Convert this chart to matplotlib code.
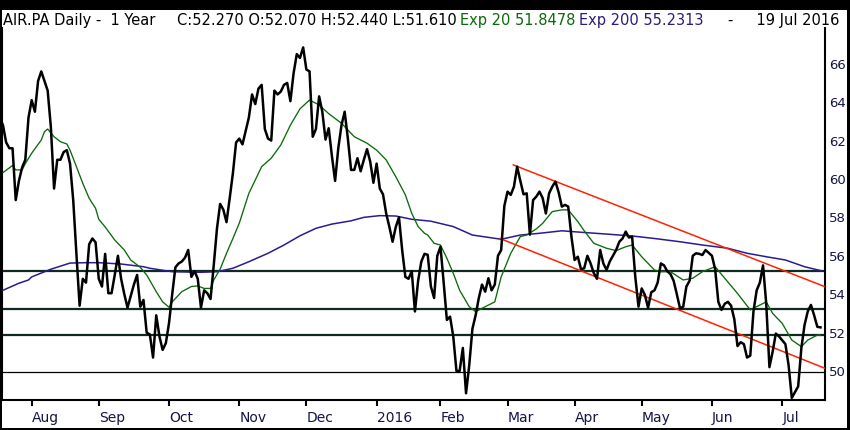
import numpy as np
import pandas as pd
import matplotlib
matplotlib.use("Agg")
import matplotlib.pyplot as plt
from matplotlib.patches import Rectangle

# ---------------- data ----------------
start_date = "2015-07-20"
end_date = "2016-07-19"
holidays = ["2015-12-25", "2016-01-01", "2016-03-25", "2016-03-28"]

closes = [
    63.2, 62.8, 61.9, 61.6, 61.6, 58.9, 59.9, 60.6, 61.0, 63.2,
    64.1, 63.5, 65.1, 65.6, 65.1, 64.6, 62.7, 59.5, 61.0, 61.0,
    61.4, 61.5, 60.8, 58.9, 56.1, 53.4, 54.8, 54.6, 56.6, 56.9,
    56.7, 54.8, 54.4, 56.1, 54.05, 54.05, 55.0, 56.0, 54.8, 54.0,
    53.3, 53.9, 54.5, 55.0, 53.35, 53.7, 52.0, 51.9, 50.7, 52.9,
    51.8, 51.1, 51.45, 52.5, 54.0, 55.4, 55.6, 55.7, 55.9, 56.3,
    54.9, 55.2, 54.8, 53.3, 54.2, 54.05, 53.75, 55.5, 57.4, 58.7,
    58.4, 57.75, 59.0, 60.3, 61.9, 62.1, 61.8, 62.5, 63.2, 64.4,
    63.9, 64.7, 64.9, 62.6, 62.1, 62.0, 64.6, 64.4, 64.55, 64.9,
    65.0, 64.05, 65.5, 66.5, 66.3, 66.85, 65.7, 65.6, 62.2, 62.6,
    64.3, 63.5, 62.05, 62.64, 61.2, 59.9, 61.6, 62.8, 63.5, 62.1,
    60.47, 60.47, 61.08, 60.4, 61.0, 61.55, 60.9, 59.8, 60.8, 59.5,
    59.2, 58.2, 57.5, 56.73, 57.5, 58.0, 56.3, 54.9, 54.8, 55.2,
    53.1, 54.7, 55.7, 56.1, 56.05, 54.4, 53.8, 56.0, 56.47, 54.6,
    52.66, 52.83, 51.8, 50.0, 50.0, 51.2, 48.84, 50.3, 52.2, 52.9,
    53.8, 54.5, 54.13, 54.83, 54.2, 54.5, 56.0, 56.3, 58.6, 59.34,
    59.17, 59.6, 60.64, 59.9, 59.2, 59.25, 57.1, 58.9, 59.08, 59.34,
    59.0, 58.2, 59.25, 59.6, 59.86, 59.3, 58.56, 58.65, 58.56, 57.0,
    55.78, 55.95, 55.3, 55.35, 56.0, 55.6, 55.1, 54.8, 56.3, 55.6,
    55.26, 55.7, 56.0, 56.3, 56.73, 56.9, 57.26, 56.95, 57.0, 54.9,
    53.35, 54.3, 53.96, 53.3, 54.1, 54.2, 54.6, 55.6, 55.5, 55.2,
    55.05, 54.7, 54.0, 53.26, 53.35, 54.4, 54.7, 56.0, 56.13, 56.1,
    56.04, 56.3, 56.15, 56.0, 55.3, 53.6, 53.18, 53.5, 53.6, 53.4,
    52.7, 51.3, 51.5, 51.4, 50.7, 50.8, 53.1, 54.2, 54.6, 55.5,
    53.5, 50.2, 51.0, 51.95, 51.8, 51.6, 51.4, 50.3, 48.6, 48.9,
    49.2, 51.2, 52.4, 53.1, 53.44, 52.9, 52.3, 52.27,
]

# EMA 20 (trading-day index, value)
ema20_idx = [1, 4, 5, 7, 8, 10, 13, 14, 15, 17, 19, 21, 22, 24, 26, 28, 30, 31, 33, 36,
             39, 41, 44, 46, 49, 51, 53, 54, 57, 60, 62, 64, 66, 67, 69, 71, 73, 75, 78, 82,
             85, 88, 91, 94, 97, 100, 103, 107, 111, 115, 118, 121, 124, 127, 129, 131, 133, 134, 136, 138,
             140, 142, 144, 147, 149, 152, 155, 157, 160, 163, 165, 168, 170, 173, 176, 178, 181, 183, 186, 190,
             193, 196, 198, 201, 205, 207, 210, 214, 217, 220, 224, 227, 231, 235, 237, 240, 242, 245, 248, 251,
             253, 256, 257]
ema20_val = [60.33, 60.7, 60.47, 60.47, 60.8, 61.34, 62.03, 62.46, 62.6, 62.2, 61.94, 61.82, 61.5, 60.64, 59.77, 58.99, 58.47, 57.9, 57.5, 56.82,
             56.3, 55.78, 55.4, 55.0, 54.13, 53.6, 53.32, 53.6, 54.13, 54.4, 54.43, 54.3, 54.3, 54.74, 55.3, 56.13, 56.9, 57.7, 59.25, 60.64,
             61.08, 61.77, 62.8, 63.65, 64.11, 63.85, 63.4, 62.9, 62.2, 61.86, 61.5, 60.99, 60.12, 59.17, 58.21, 57.52, 57.17, 57.08, 56.65, 56.56,
             55.87, 55.09, 54.2, 53.35, 53.09, 53.35, 53.6, 54.9, 56.13, 57.0, 57.08, 57.4, 57.69, 58.3, 58.39, 58.39, 57.78, 57.3, 56.65, 56.39,
             56.27, 56.47, 56.56, 55.95, 55.26, 55.17, 55.17, 54.74, 54.83, 55.17, 55.43, 54.83, 54.04, 53.18, 53.35, 53.6, 53.0, 52.48, 51.61, 51.27,
             51.61, 51.87, 51.85]

# EMA 200 (trading-day index, value)
ema200_idx = [0, 6, 9, 10, 16, 22, 27, 31, 38, 45, 47, 54, 63, 68, 73, 78, 84, 89, 94, 99,
              104, 110, 114, 119, 124, 129, 135, 142, 148, 157, 163, 169, 176, 184, 190, 198, 205, 213, 220, 228,
              234, 240, 246, 252, 257]
ema200_val = [54.13, 54.57, 54.74, 54.9, 55.3, 55.62, 55.64, 55.64, 55.57, 55.43, 55.35, 55.17, 55.14, 55.17, 55.35, 55.69, 56.13, 56.56, 57.04, 57.43,
              57.65, 57.82, 58.0, 58.09, 58.07, 57.9, 57.8, 57.52, 57.08, 56.86, 57.08, 57.17, 57.3, 57.2, 57.13, 57.03, 56.9, 56.73, 56.56, 56.39,
              56.13, 55.95, 55.78, 55.43, 55.23]

# trend channel anchors (trading-day index, value)
upper_idx = [160.8, 258.4]
upper_val = [60.73, 54.39]
lower_idx = [156.6, 258.4]
lower_val = [56.9, 50.14]

# horizontal levels
levels_main = [55.22, 53.23, 51.89]
level_thin = [49.97]

y_ticks = [50, 52, 54, 56, 58, 60, 62, 64, 66]
month_labels = ["Aug", "Sep", "Oct", "Nov", "Dec", "2016", "Feb", "Mar", "Apr", "May", "Jun", "Jul"]

header_left = "AIR.PA Daily -  1 Year"
header_ohlc = "C:52.270 O:52.070 H:52.440 L:51.610"
header_ema20 = "Exp 20 51.8478"
header_ema200 = "Exp 200 55.2313"
header_date = "-     19 Jul 2016"

# ---------------- derived ----------------
dates = pd.bdate_range(start_date, end_date)
dates = dates[~dates.isin(pd.to_datetime(holidays))]
n = len(dates)
x = np.arange(n)
month_starts = [i for i in range(1, n) if dates[i].month != dates[i - 1].month]

# ---------------- figure ----------------
W, H = 850, 430
fig = plt.figure(figsize=(W / 100, H / 100), dpi=100, facecolor="black")
fig.patches.append(Rectangle((2 / W, 2 / H), 845 / W, 418 / H, transform=fig.transFigure,
                             facecolor="white", edgecolor="none", zorder=-5))

ax = fig.add_axes([2 / W, 30 / H, 823 / W, 372 / H])
ax.set_facecolor("white")
ax.set_xlim(0.7, 258.4)
ax.set_ylim(48.49, 67.86)

for v in levels_main:
    ax.axhline(v, color="#102a22", lw=1.6, zorder=2)
for v in level_thin:
    ax.axhline(v, color="black", lw=0.9, zorder=2)

ax.plot(ema200_idx, ema200_val, color="#2b1b8f", lw=1.1, zorder=3)
ax.plot(ema20_idx, ema20_val, color="#0a6a0a", lw=0.95, zorder=3)
ax.plot(upper_idx, upper_val, color="#ff2200", lw=1.1, zorder=4)
ax.plot(lower_idx, lower_val, color="#ff2200", lw=1.1, zorder=4)
ax.plot(x, closes, color="black", lw=1.8, solid_joinstyle="round", zorder=5)

for s in ["left", "right", "bottom"]:
    ax.spines[s].set_linewidth(1.5)
    ax.spines[s].set_color("black")
ax.spines["top"].set_visible(False)

ax.yaxis.tick_right()
ax.set_yticks(y_ticks)
ax.set_yticklabels([str(t) for t in y_ticks])
ax.tick_params(axis="y", length=0, pad=3, labelsize=9.5, labelcolor="#141446")

ax.set_xticks(month_starts)
ax.set_xticklabels(month_labels)
for lab in ax.get_xticklabels():
    lab.set_horizontalalignment("left")
ax.tick_params(axis="x", direction="out", length=4.5, width=1.5, pad=3.5,
               labelsize=10, labelcolor="#141446", color="black")

yb = (H - 25) / H
fs = 10.5
fig.text(3 / W, yb, header_left, fontsize=fs, color="black", va="baseline", ha="left")
fig.text(177 / W, yb, header_ohlc, fontsize=fs, color="black", va="baseline", ha="left")
fig.text(460 / W, yb, header_ema20, fontsize=fs, color="#0a6a0a", va="baseline", ha="left")
fig.text(579 / W, yb, header_ema200, fontsize=fs, color="#2e1a7a", va="baseline", ha="left")
fig.text(839 / W, yb, header_date, fontsize=fs, color="black", va="baseline", ha="right")

fig.savefig("out.png", dpi=100, facecolor="black")
